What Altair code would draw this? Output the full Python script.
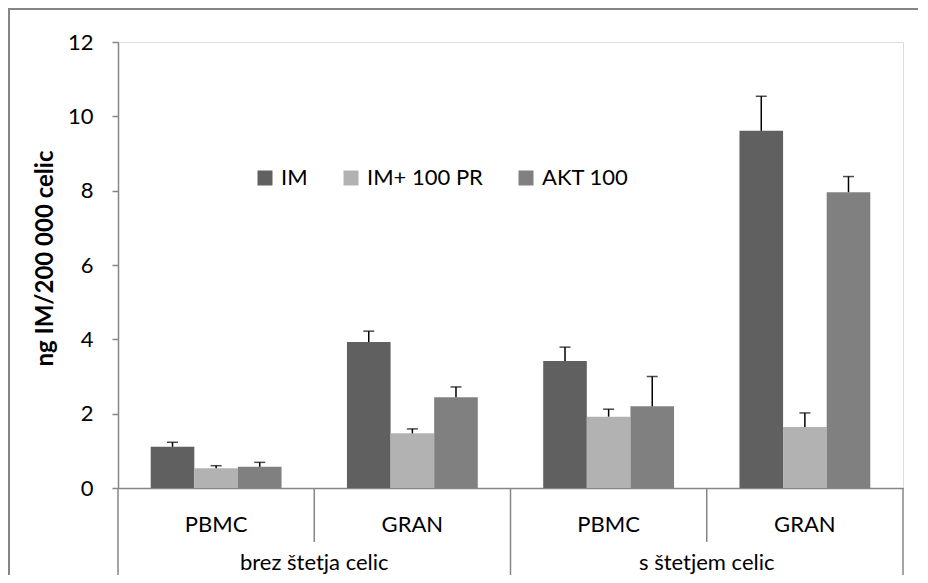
import altair as alt
import pandas as pd

# ---- data ----
conditions = ["brez štetja celic", "brez štetja celic", "s štetjem celic", "s štetjem celic"]
cells = ["PBMC", "GRAN", "PBMC", "GRAN"]
series = ["IM", "IM+ 100 PR", "AKT 100"]
im_vals = [1.11, 3.93, 3.42, 9.61]
im_err = [0.12, 0.29, 0.37, 0.93]
impr_vals = [0.53, 1.47, 1.92, 1.64]
impr_err = [0.07, 0.12, 0.20, 0.38]
akt_vals = [0.57, 2.44, 2.20, 7.96]
akt_err = [0.12, 0.28, 0.80, 0.42]
colors = ["#606060", "#b2b2b2", "#808080"]
y_ticks = [0, 2, 4, 6, 8, 10, 12]

keys = [f"{c}|{k}" for c, k in zip(conditions, cells)]
rows = []
for s, vals, errs in [(series[0], im_vals, im_err), (series[1], impr_vals, impr_err), (series[2], akt_vals, akt_err)]:
    for key, cond, cell, v, e in zip(keys, conditions, cells, vals, errs):
        rows.append({"key": key, "cond": cond, "cell": cell, "series": s, "value": v, "top": v + e})
df = pd.DataFrame(rows)

W, H = 785, 446
FONT = "Lato"
GRID = "#868686"

xenc = alt.X("key:N", sort=keys,
             scale=alt.Scale(paddingInner=0, paddingOuter=0),
             axis=alt.Axis(labels=False, ticks=False, title=None, domainColor=GRID, domainWidth=1.5))
xoff = alt.XOffset("series:N", sort=series, scale=alt.Scale(paddingInner=0, paddingOuter=0.75))

base = alt.Chart(df)
one = pd.DataFrame({"a": [0]})

border_top = alt.Chart(one).mark_rule(color=GRID, strokeWidth=2).encode(
    x=alt.value(-110), x2=alt.value(W + 40), y=alt.value(-33))
border_left = alt.Chart(one).mark_rule(color=GRID, strokeWidth=2).encode(
    x=alt.value(-109), y=alt.value(-33), y2=alt.value(H + 140))

bars = base.mark_bar().encode(
    x=xenc,
    xOffset=xoff,
    y=alt.Y("value:Q", scale=alt.Scale(domain=[0, 12], nice=False),
            axis=alt.Axis(values=y_ticks, grid=False, domainColor=GRID, domainWidth=1.5,
                          tickColor=GRID, tickWidth=1.5, tickSize=6, labelPadding=19,
                          labelFont=FONT, labelFontSize=22, labelColor="black",
                          title="ng IM/200 000 celic", titleFont=FONT, titleFontSize=24,
                          titleFontWeight="bold", titleColor="black",
                          titleX=-73, titleY=216, titleAlign="center", titleBaseline="middle",
                          titleAngle=270)),
    color=alt.Color("series:N", sort=series, scale=alt.Scale(domain=series, range=colors),
                    legend=alt.Legend(title=None, orient="none", legendX=136, legendY=125,
                                      direction="horizontal", symbolType="square",
                                      symbolSize=225, symbolStrokeWidth=0, symbolOpacity=1,
                                      labelFont=FONT, labelFontSize=22, labelColor="black",
                                      labelOffset=5, columnPadding=32)),
)

err_rule = base.mark_rule(color="black", strokeWidth=1.5).encode(
    x=alt.X("key:N", sort=keys), xOffset=xoff,
    y="value:Q", y2="top:Q")
err_cap = base.mark_tick(color="black", thickness=1.5, size=11).encode(
    x=alt.X("key:N", sort=keys), xOffset=xoff, y="top:Q")

lab_df = pd.DataFrame({"key": keys, "cell": cells, "cond": conditions})
cell_labels = alt.Chart(lab_df).mark_text(font=FONT, fontSize=22, color="black", baseline="alphabetic").encode(
    x=alt.X("key:N", sort=keys), y=alt.value(H + 44), text="cell:N")

grp_df = pd.DataFrame({"key": [keys[1], keys[3]], "cond": [conditions[0], conditions[2]]})
grp_labels = alt.Chart(grp_df).mark_text(font=FONT, fontSize=22, color="black", baseline="alphabetic").encode(
    x=alt.X("key:N", sort=keys, bandPosition=0), y=alt.value(H + 82), text="cond:N")

tall_left = alt.Chart(pd.DataFrame({"key": [keys[0], keys[2]]})).mark_rule(color=GRID, strokeWidth=1.5).encode(
    x=alt.X("key:N", sort=keys, bandPosition=0), y=alt.value(H), y2=alt.value(H + 140))
tall_right = alt.Chart(pd.DataFrame({"key": [keys[3]]})).mark_rule(color=GRID, strokeWidth=1.5).encode(
    x=alt.X("key:N", sort=keys, bandPosition=1), y=alt.value(H), y2=alt.value(H + 140))
short_div = alt.Chart(pd.DataFrame({"key": [keys[1], keys[3]]})).mark_rule(color=GRID, strokeWidth=1.5).encode(
    x=alt.X("key:N", sort=keys, bandPosition=0), y=alt.value(H), y2=alt.value(H + 54))

chart = alt.layer(border_top, border_left, bars, err_rule, err_cap, cell_labels, grp_labels,
                  tall_left, tall_right, short_div).properties(
    width=W, height=H,
    autosize=alt.AutoSizeParams(type="none"),
    padding={"left": 110, "top": 34, "right": 15, "bottom": 87},
).configure_view(stroke=None).configure(background="white")

chart.save("out.html", embed_options={"renderer": "svg", "actions": False})
